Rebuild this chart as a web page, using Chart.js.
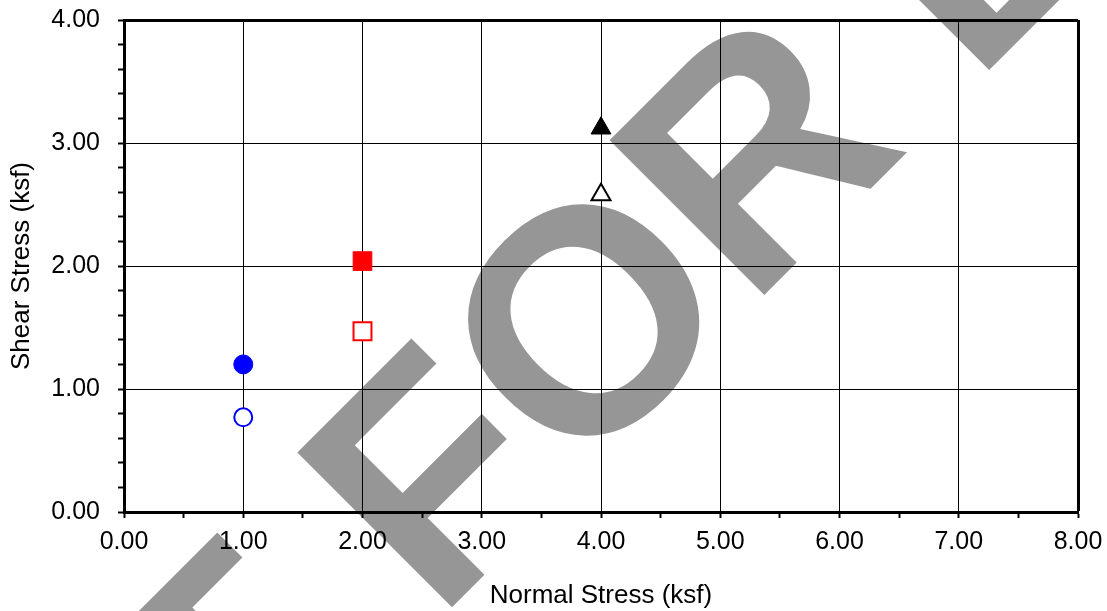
<!DOCTYPE html>
<html>
<head>
<meta charset="utf-8">
<script src="https://cdn.jsdelivr.net/npm/chart.js@4.4.0/dist/chart.umd.min.js"></script>
<style>
html, body { margin: 0; padding: 0; background: #fff; }
#wrap { width: 1107px; height: 611px; }
</style>
</head>
<body>
<div id="wrap"><canvas id="shearChart" width="1107" height="611"></canvas></div>
<script>
// values
var normalStress = [1.00, 2.00, 4.00];
var peakShear = [1.20, 2.04, 3.12];
var residualShear = [0.77, 1.47, 2.58];
var markerColors = ['#0000ff', '#ff0000', '#000000'];
var markerShapes = ['circle', 'rect', 'triangle'];
var watermarkText = 'NOT FOR EXTERNAL USE';

Chart.defaults.font.family = '"Liberation Sans", Arial, sans-serif';
Chart.defaults.color = '#000';

function isMajor(v) {
    return Math.abs(v - Math.round(v)) < 1e-6;
}

var filledRadius = { circle: 9.5, rect: 13.2, triangle: 11.5 };
var openRadius = { circle: 9, rect: 12.7, triangle: 11 };

var datasets = [];
for (var i = 0; i < normalStress.length; i++) {
    datasets.push({
        label: 'peak ' + i,
        data: [{ x: normalStress[i], y: peakShear[i] }],
        pointStyle: markerShapes[i],
        pointRadius: filledRadius[markerShapes[i]],
        backgroundColor: markerColors[i],
        borderColor: markerColors[i],
        borderWidth: 1
    });
    datasets.push({
        label: 'residual ' + i,
        data: [{ x: normalStress[i], y: residualShear[i] }],
        pointStyle: markerShapes[i],
        pointRadius: openRadius[markerShapes[i]],
        backgroundColor: '#ffffff',
        borderColor: markerColors[i],
        borderWidth: 2
    });
}

// gray stamp behind everything
var watermark = {
    id: 'watermark',
    beforeDraw: function (chart) {
        var ctx = chart.ctx;
        ctx.save();
        ctx.rotate(-Math.PI / 4);
        ctx.font = 'bold 318px "Liberation Sans", Arial, sans-serif';
        ctx.fillStyle = '#969696';
        ctx.textBaseline = 'alphabetic';
        var lead = ctx.measureText('NOT ').width;
        ctx.fillText(watermarkText, -131 - lead, 749);
        ctx.restore();
    }
};

var ctxS = document.getElementById('shearChart').getContext('2d');
var shearChart = new Chart(ctxS, {
    type: 'scatter',
    data: { datasets: datasets },
    options: {
        responsive: false,
        devicePixelRatio: 1,
        animation: false,
        layout: { padding: { left: 0, top: 20, right: 29, bottom: 0 } },
        plugins: { legend: { display: false }, tooltip: { enabled: false } },
        scales: {
            x: {
                type: 'linear',
                min: 0, max: 8,
                afterFit: function (scale) {
                    scale.height = 99;
                    scale.paddingLeft = 0;
                    scale.paddingRight = 0;
                },
                ticks: {
                    stepSize: 0.5,
                    autoSkip: false,
                    maxRotation: 0,
                    padding: 9,
                    font: { size: 25 },
                    callback: function (v) { return isMajor(v) ? v.toFixed(2) : ''; }
                },
                grid: {
                    color: function (c) { return isMajor(c.tick.value) ? '#000' : 'rgba(0,0,0,0)'; },
                    lineWidth: function (c) { return c.tick.value === 8 ? 3 : 1; },
                    tickColor: '#000',
                    tickWidth: 2,
                    tickLength: 6
                },
                border: { display: true, color: '#000', width: 3 },
                title: {
                    display: true,
                    text: 'Normal Stress (ksf)',
                    font: { size: 26 },
                    padding: { top: 0, bottom: 0 }
                }
            },
            y: {
                type: 'linear',
                min: 0, max: 4,
                afterFit: function (scale) {
                    scale.width = 124;
                    scale.paddingTop = 0;
                    scale.paddingBottom = 0;
                },
                ticks: {
                    stepSize: 0.2,
                    autoSkip: false,
                    padding: 18,
                    font: { size: 25 },
                    callback: function (v) { return isMajor(v) ? v.toFixed(2) : ''; }
                },
                grid: {
                    color: function (c) { return isMajor(c.tick.value) ? '#000' : 'rgba(0,0,0,0)'; },
                    lineWidth: function (c) { return Math.abs(c.tick.value - 4) < 1e-6 ? 3 : 1; },
                    tickColor: '#000',
                    tickWidth: 2,
                    tickLength: 6
                },
                border: { display: true, color: '#000', width: 3 },
                title: {
                    display: true,
                    text: 'Shear Stress (ksf)',
                    font: { size: 26 },
                    padding: { top: 6, bottom: 0 }
                }
            }
        }
    },
    plugins: [watermark]
});
</script>
</body>
</html>
